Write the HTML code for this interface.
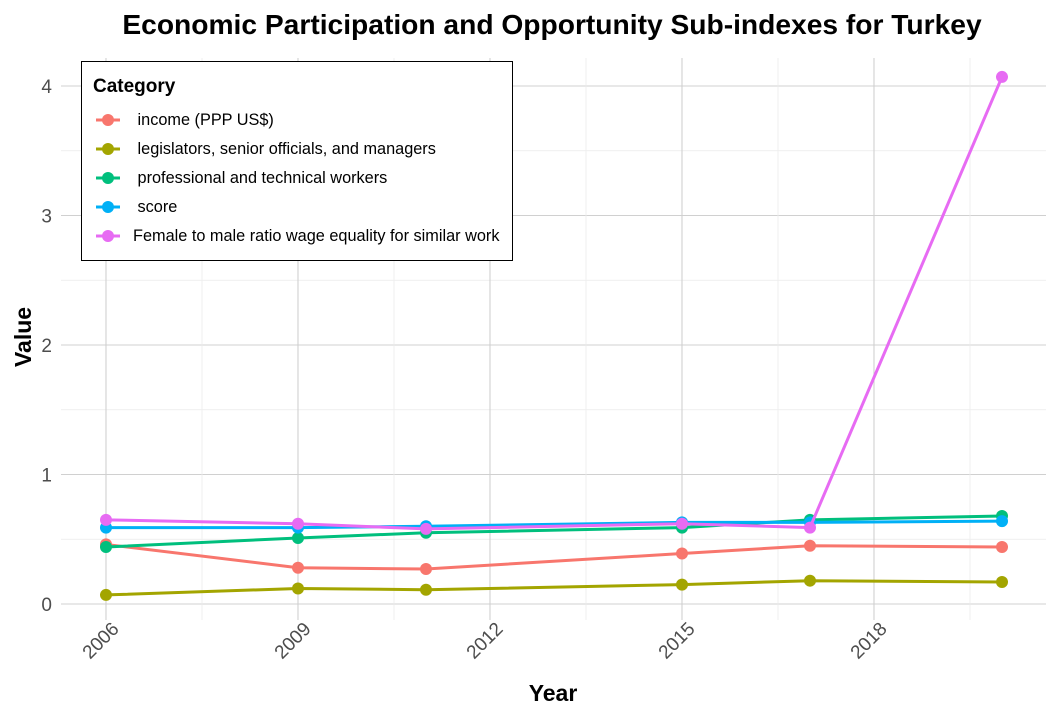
<!DOCTYPE html>
<html><head><meta charset="utf-8"><style>
body{margin:0;background:#fff;font-family:"Liberation Sans",Arial,sans-serif}
svg text{font-family:"Liberation Sans",Arial,sans-serif}
</style></head><body>
<svg id="chart" width="1057" height="718">
<g id="grid"></g><g id="series"></g><g id="axes"></g>
<text x="552" y="34" text-anchor="middle" font-size="28.2" font-weight="bold">Economic Participation and Opportunity Sub-indexes for Turkey</text>
<text x="0" y="0" transform="translate(31,337) rotate(-90)" text-anchor="middle" font-size="23" font-weight="bold">Value</text>
<text x="553" y="701" text-anchor="middle" font-size="23" font-weight="bold">Year</text>
<g id="legend">
<rect x="81.5" y="61.5" width="431" height="199" fill="#fff" stroke="#000" stroke-width="1"/>
<text x="93" y="92" font-size="19" font-weight="bold">Category</text>
</g>
</svg>
<script>
const years=[2006,2009,2011,2015,2017,2020];
const seriesNames=[" income (PPP US$)"," legislators, senior officials, and managers"," professional and technical workers"," score","Female to male ratio wage equality for similar work"];
const income=[0.46,0.28,0.27,0.39,0.45,0.44];
const legislators=[0.07,0.12,0.11,0.15,0.18,0.17];
const professional=[0.44,0.51,0.55,0.59,0.65,0.68];
const score=[0.59,0.59,0.60,0.63,0.63,0.64];
const female=[0.65,0.62,0.58,0.62,0.59,4.07];
const xTicks=[2006,2009,2012,2015,2018];
const yTicks=[0,1,2,3,4];
const colors=["#F8766D","#A3A500","#00BF7D","#00B0F6","#E76BF3"];
const allSeries=[income,legislators,professional,score,female];
const NS="http://www.w3.org/2000/svg";
const xs=v=>106+(v-2006)*64;
const ys=v=>604-v*129.5;
function mk(tag,attrs,parent){const e=document.createElementNS(NS,tag);for(const k in attrs)e.setAttribute(k,attrs[k]);parent.appendChild(e);return e;}
const grid=document.getElementById('grid'),axes=document.getElementById('axes'),ser=document.getElementById('series'),leg=document.getElementById('legend');
const L=61,R=1046,T=58,B=620;
for(let v=-0.5;v<=4.5;v+=0.5){const y=ys(v);if(y<T||y>B)continue;const major=Math.abs(v-Math.round(v))<1e-9;
const l=mk('line',{x1:L,x2:R,y1:y,y2:y,stroke:major?'#d0d0d0':'#ebebeb','stroke-width':major?1.1:0.8},grid);

}
for(let v=2004.5;v<=2021;v+=1.5){const x=xs(v);if(x<L||x>R)continue;const major=Math.abs((v-2006)/3-Math.round((v-2006)/3))<1e-9;
const l=mk('line',{x1:x,x2:x,y1:T,y2:B,stroke:major?'#d0d0d0':'#ebebeb','stroke-width':major?1.1:0.8},grid);

}
yTicks.forEach(v=>{const t=mk('text',{x:52,y:ys(v)+7,'text-anchor':'end','font-size':19,fill:'#4d4d4d'},axes);t.textContent=v;

});
xTicks.forEach(v=>{const x=xs(v);const t=mk('text',{x:0,y:0,transform:`translate(${x+14},${630}) rotate(-45)`,'text-anchor':'end','font-size':19,fill:'#4d4d4d'},axes);t.textContent=v;

});
allSeries.forEach((d,i)=>{const g=mk('g',{},ser);


const pts=d.map((v,j)=>xs(years[j])+','+ys(v)).join(' ');
const pl=mk('polyline',{points:pts,fill:'none',stroke:colors[i],'stroke-width':3},g);


d.forEach((v,j)=>{const c=mk('circle',{cx:xs(years[j]),cy:ys(v),r:6,fill:colors[i]},g);

});
const ly=120+i*29;
const lg=mk('g',{},leg);


mk('line',{x1:96,x2:120,y1:ly,y2:ly,stroke:colors[i],'stroke-width':3},lg);
mk('circle',{cx:108,cy:ly,r:6,fill:colors[i]},lg);
const t=mk('text',{x:133,y:ly+5,'font-size':16.3},lg);t.textContent=seriesNames[i];
t.setAttribute('style','white-space:pre');});
</script>
</body></html>
